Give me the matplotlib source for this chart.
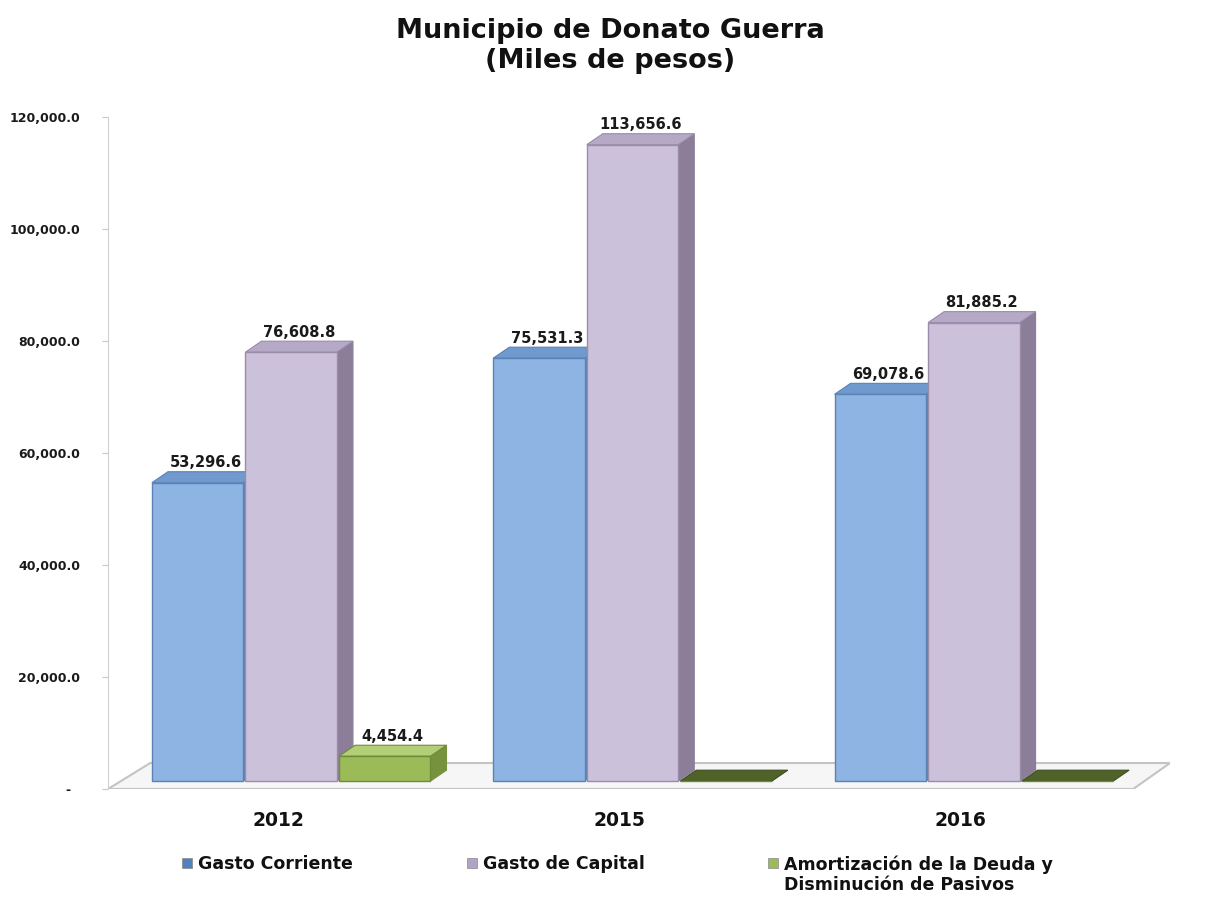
import matplotlib
matplotlib.use("Agg")
import matplotlib.pyplot as plt
from matplotlib.patches import Polygon, Rectangle
import matplotlib.ticker as ticker
import numpy as np

years = ["2012", "2015", "2016"]
series = ["Gasto Corriente", "Gasto de Capital",
          "Amortización de la Deuda y\nDisminución de Pasivos"]
gasto_corriente = [53296.6, 75531.3, 69078.6]
gasto_capital = [76608.8, 113656.6, 81885.2]
amortizacion = [4454.4, 0.0, 0.0]
yticks = [0, 20000, 40000, 60000, 80000, 100000, 120000]

# front, top, side, edge
colors = [
    ("#8db4e2", "#7099cd", "#5d82b3", "#5b82b5"),
    ("#ccc1da", "#b6a8c7", "#8c7e99", "#9a8cab"),
    ("#9bbb59", "#b2cf77", "#76923c", "#6f8a3a"),
]
legend_colors = ["#4f81bd", "#b3a2c7", "#9bbb59"]

plt.rcParams['font.family'] = 'DejaVu Sans'
plt.rcParams['font.weight'] = 'bold'

fig = plt.figure(figsize=(12.06, 9.07), dpi=100)
ax = fig.add_axes([0.0896, 0.1301, 0.8806, 0.7409])
ax.set_xlim(-0.4985, 2.613)
ax.set_ylim(0, 120000)

offsets = [-0.236, 0.038, 0.312]
width = 0.268
dx = 0.047      # depth of the fake 3d, x data units
dy = 1960       # depth of the fake 3d, y data units
base = 1400     # bars sit a bit back on the floor

# floor
floor = Polygon([(-0.4985, 0), (2.505, 0), (2.613, 4640), (-0.375, 4640)],
                closed=True, facecolor="#f6f6f6", edgecolor="#c4c4c4",
                linewidth=1.5, zorder=1)
ax.add_patch(floor)

x = np.arange(len(years))
data = [gasto_corriente, gasto_capital, amortizacion]
for k, vals in enumerate(data):
    front, top, side, edge = colors[k]
    xs = x + offsets[k]
    z = 2 + k
    for xc, v in zip(xs, vals):
        x0 = xc - width / 2
        x1 = xc + width / 2
        h = base + v
        if v == 0:
            ax.add_patch(Polygon([(x0, base), (x1, base), (x1 + dx, base + dy),
                                  (x0 + dx, base + dy)], closed=True,
                                 facecolor="#4f6228", edgecolor="#3d4d1f",
                                 linewidth=0.8, zorder=z))
            continue
        ax.add_patch(Polygon([(x1, base), (x1 + dx, base + dy), (x1 + dx, h + dy),
                              (x1, h)], closed=True, facecolor=side,
                             edgecolor=side, linewidth=0.8, zorder=z))
        ax.add_patch(Polygon([(x0, h), (x1, h), (x1 + dx, h + dy), (x0 + dx, h + dy)],
                             closed=True, facecolor=top, edgecolor=edge,
                             linewidth=0.8, zorder=z))
    ax.bar(xs, vals, width=width, bottom=base, color=front, edgecolor=edge,
           linewidth=1.0, zorder=z + 0.5)
    for xc, v in zip(xs, vals):
        if v == 0:
            continue
        ax.annotate(f"{v:,.1f}", (xc + dx / 2, base + v + dy),
                    xytext=(0, 1), textcoords="offset points",
                    ha="center", va="bottom", fontsize=10.5,
                    fontweight="bold", color="#1a1a1a", zorder=10)

ax.set_yticks(yticks)
ax.yaxis.set_major_formatter(ticker.FuncFormatter(
    lambda v, p: "-  " if v == 0 else f"{v:,.1f}"))
ax.tick_params(axis="y", length=4, color="#c8c8c8", pad=16, labelsize=9,
               labelcolor="#1a1a1a")
ax.set_xticks(x)
ax.set_xticklabels(years, fontsize=13.5, fontweight="bold")
ax.tick_params(axis="x", length=0, pad=16, labelcolor="#111111")
for s in ["top", "right", "bottom"]:
    ax.spines[s].set_visible(False)
ax.spines["left"].set_color("#d0d0d0")
ax.set_facecolor("none")

fig.text(0.506, 1 - 18 / 907, "Municipio de Donato Guerra\n(Miles de pesos)",
         ha="center", va="top", fontsize=19.5, fontweight="bold",
         linespacing=1.2, color="#111111")

# legend
leg_x = [182, 467, 768]
for k, name in enumerate(series):
    fig.patches.append(Rectangle((leg_x[k] / 1206, 1 - 868 / 907), 10 / 1206,
                                 10 / 907, transform=fig.transFigure,
                                 facecolor=legend_colors[k], edgecolor="#888888",
                                 linewidth=0.5))
    fig.text((leg_x[k] + 16) / 1206, 1 - 855 / 907, name, ha="left", va="top",
             fontsize=12.5, fontweight="bold", linespacing=1.15, color="#111111")

fig.savefig("out.png", dpi=100)
